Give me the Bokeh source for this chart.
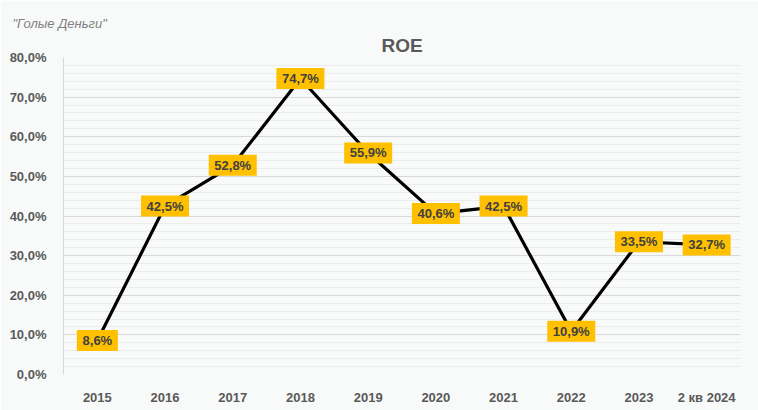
from bokeh.plotting import figure
from bokeh.models import Range1d, FixedTicker, ColumnDataSource, Title
from bokeh.core.properties import value
from bokeh.embed import file_html
from bokeh.resources import INLINE

years = ["2015", "2016", "2017", "2018", "2019", "2020", "2021", "2022", "2023", "2 кв 2024"]
roe = [8.6, 42.5, 52.8, 74.7, 55.9, 40.6, 42.5, 10.9, 33.5, 32.7]
labels = ["8,6%", "42,5%", "52,8%", "74,7%", "55,9%", "40,6%", "42,5%", "10,9%", "33,5%", "32,7%"]
y_ticks = [0, 10, 20, 30, 40, 50, 60, 70, 80]
y_tick_labels = ["0,0%", "10,0%", "20,0%", "30,0%", "40,0%", "50,0%", "60,0%", "70,0%", "80,0%"]

W, H = 758, 410
L, R, T, B = 63, 18, 57, 36

xs = list(range(len(years)))
box_w = [7 * len(t) + 13 for t in labels]
src = ColumnDataSource(dict(x=xs, y=roe, t=labels, w=box_w))

BG = "#f8f9f9"
p = figure(width=W, height=H, output_backend="svg", toolbar_location=None,
           x_range=Range1d(-0.5, len(years) - 0.5), y_range=Range1d(0, 80),
           min_border_left=L, min_border_right=R, min_border_top=T, min_border_bottom=B,
           background_fill_color=BG, border_fill_color=BG, outline_line_color=None)

p.line("x", "y", source=src, line_color="black", line_width=3.2)
p.rect("x", "y", width="w", width_units="screen", height=21, height_units="screen",
       source=src, fill_color="#FFC000", line_color=None)
p.text("x", "y", text="t", source=src, text_align="center", text_baseline="middle",
       text_font=value("Arial"), text_font_size="13px", text_font_style="bold", text_color="#404040")

p.xaxis.ticker = FixedTicker(ticks=xs)
p.xaxis.major_label_overrides = {i: years[i] for i in xs}
p.yaxis.ticker = FixedTicker(ticks=y_ticks, minor_ticks=list(range(0, 81, 2)))
p.yaxis.major_label_overrides = {v: l for v, l in zip(y_ticks, y_tick_labels)}
for ax in (p.xaxis, p.yaxis):
    ax.major_label_text_font = "Arial"
    ax.major_label_text_font_size = "13px"
    ax.major_label_text_font_style = "bold"
    ax.major_label_text_color = "#595959"
    ax.major_tick_line_color = None
    ax.minor_tick_line_color = None
p.xaxis.axis_line_color = None
p.yaxis.axis_line_color = "#d9d9d9"
p.xaxis.major_label_standoff = 9
p.yaxis.major_label_standoff = 11

p.xgrid.grid_line_color = None
p.ygrid.grid_line_color = "#d9d9d9"
p.ygrid.minor_grid_line_color = "#ececec"

p.add_layout(Title(text="ROE", align="center", text_font="Arial", text_font_size="19px",
                   text_font_style="bold", text_color="#595959", standoff=4), "above")
p.add_layout(Title(text='"Голые Деньги"', align="left", text_font="Arial", text_font_size="13px",
                   text_font_style="italic", text_color="#808080", offset=-51, standoff=0), "above")

open("out.html", "w").write(file_html(p, INLINE))
